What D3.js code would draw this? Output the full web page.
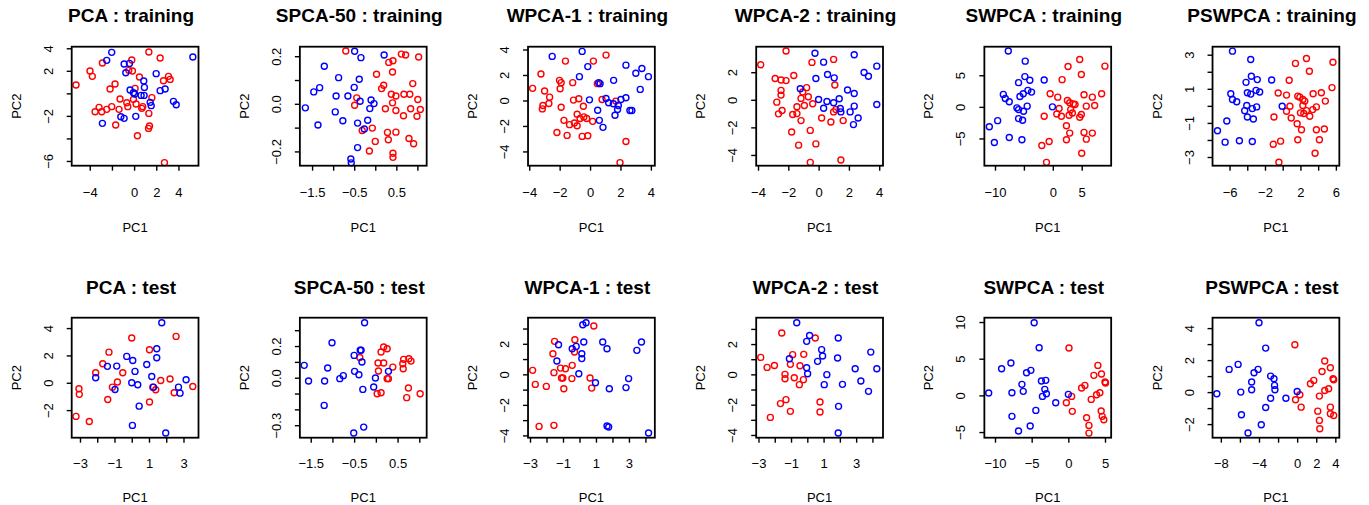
<!DOCTYPE html>
<html><head><meta charset="utf-8">
<script src="https://cdn.jsdelivr.net/npm/d3@7"></script>
<style>body{margin:0;background:#fff}svg{display:block}</style>
</head><body><svg id="c" width="1369" height="505"></svg>
<script>
// ---------- DATA ----------
const methods = ["PCA","SPCA-50","WPCA-1","WPCA-2","SWPCA","PSWPCA"];
const sets = ["training","test"];

const pcaTrainRed = [[-5.24,0.74],[-3.98,1.98],[-3.77,1.51],[-2.86,2.69],[-0.21,2.96],[1.33,3.67],[2.35,3.14],[-0.48,2.04],[-0.15,1.98],[0.48,1.45],[2.65,1.12],[3.10,1.51],[3.25,1.24],[-1.72,0.83],[-2.17,0.38],[0.09,0.44],[-1.27,-0.50],[-0.66,-0.83],[-0.57,-1.18],[-0.06,-0.53],[0.18,-0.95],[0.69,-1.33],[0.78,-1.18],[1.60,-0.38],[1.33,-1.78],[-3.16,-1.24],[-3.52,-1.63],[-2.92,-1.63],[-2.47,-1.42],[-2.02,-1.18],[-1.36,-1.42],[-1.66,-2.81],[1.39,-2.90],[1.30,-3.11],[0.30,-3.76],[2.74,-6.15]];
const pcaTrainBlue = [[-2.02,3.64],[-2.47,2.93],[-0.90,2.60],[-0.42,2.66],[-0.75,1.83],[1.99,1.75],[0.87,1.09],[0.93,0.53],[-0.36,0.30],[-0.06,0.06],[0.63,-0.18],[0.90,-0.18],[0.06,-0.06],[2.80,0.38],[2.35,0.24],[1.45,-0.80],[1.54,-1.09],[3.55,-0.71],[3.80,-1.01],[5.30,3.22],[-2.86,-2.66],[-1.20,-2.07],[-0.90,-2.22],[0.15,-2.04]];

const spcaTrainRed = [[-0.70,0.222],[0.62,0.209],[0.72,0.205],[1.03,0.197],[0.42,0.181],[0.32,0.174],[0.41,0.134],[0.03,0.124],[0.89,0.085],[0.20,0.078],[0.15,0.064],[0.38,0.040],[0.49,0.033],[0.68,0.040],[0.82,0.040],[-0.44,0.025],[1.01,0.018],[-0.49,-0.006],[0.41,0.004],[0.24,-0.021],[0.49,-0.028],[0.84,-0.021],[1.07,-0.024],[0.99,-0.052],[0.67,-0.050],[-0.31,-0.112],[-0.07,-0.102],[0.29,-0.120],[0.49,-0.119],[0.31,-0.151],[0.80,-0.146],[0.91,-0.168],[0.00,-0.158],[-0.14,-0.198],[0.42,-0.208],[0.42,-0.225]];
const spcaTrainBlue = [[-0.49,0.221],[-0.34,0.194],[0.21,0.205],[-1.21,0.158],[-0.87,0.110],[-0.38,0.103],[-1.32,0.068],[-1.46,0.050],[-0.50,0.069],[-0.93,0.033],[-0.65,0.033],[-0.36,0.011],[-0.10,0.016],[-0.03,0.001],[-0.13,-0.020],[-1.66,-0.017],[-0.95,-0.034],[-0.77,-0.071],[-1.36,-0.089],[-0.42,-0.081],[-0.18,-0.069],[-0.26,-0.106],[-0.42,-0.184],[-0.58,-0.232],[-0.57,-0.248]];

const wpca1TrainRed = [[-3.78,0.95],[-3.23,2.08],[-2.99,0.74],[-2.66,0.26],[-2.71,-0.24],[-3.10,-0.40],[-3.14,-0.66],[-1.62,3.09],[-2.01,1.58],[-1.90,1.40],[-1.97,0.92],[-1.14,1.40],[-1.90,-0.53],[-1.09,0.03],[-0.74,0.13],[-0.44,-0.45],[-1.72,-1.56],[-1.35,-1.90],[-1.03,-1.77],[-0.85,-1.08],[-0.85,-1.98],[-0.66,-1.42],[-0.41,-1.29],[-0.22,-1.42],[0.17,-1.64],[-2.18,-2.51],[-1.51,-2.74],[-0.52,-2.82],[-0.15,-2.77],[0.22,3.09],[1.05,3.56],[0.48,1.32],[0.79,0.08],[1.70,-0.05],[2.36,-3.22],[1.97,-4.88]];
const wpca1TrainBlue = [[-2.49,3.46],[-0.52,3.85],[-0.15,2.66],[-0.70,1.87],[0.57,1.40],[0.66,1.32],[1.55,1.58],[2.36,2.77],[3.01,2.14],[3.41,2.51],[3.84,1.87],[3.30,0.87],[-0.04,0.05],[1.05,0.16],[1.22,-0.18],[1.53,-0.26],[1.86,-0.40],[2.03,0.08],[2.36,0.21],[1.81,-0.71],[0.50,-0.77],[2.62,-0.79],[2.75,-0.79],[0.61,-1.56],[1.64,-1.16],[0.85,-2.11]];

const wpca2TrainRed = [[-3.82,2.54],[-2.15,3.54],[-2.87,1.54],[-2.48,1.44],[-2.15,1.39],[-1.64,1.76],[-2.48,0.68],[-2.48,0.34],[-2.76,-0.17],[-2.41,-0.78],[-2.65,-1.02],[-0.79,0.88],[-1.05,0.56],[-0.68,0.22],[-1.16,0.10],[-1.43,-0.51],[-0.94,-0.41],[-0.39,-0.29],[-1.43,-1.00],[-1.71,-1.07],[-1.16,-1.51],[-1.78,-2.34],[-0.55,-2.22],[-1.32,-3.29],[-0.18,-3.20],[-0.55,-4.54],[-0.44,2.71],[0.99,2.93],[1.07,1.07],[0.20,-1.32],[0.81,-1.61],[0.99,-0.88],[1.14,-0.71],[1.62,-1.51],[1.47,-4.37]];
const wpca2TrainBlue = [[-0.24,3.37],[0.33,2.73],[2.35,3.27],[-0.18,1.54],[0.59,1.83],[1.03,1.59],[3.00,1.98],[3.29,1.71],[3.84,2.44],[3.84,-0.34],[-1.21,0.80],[0.00,0.02],[0.55,-0.12],[0.33,-0.61],[0.99,-0.22],[1.36,0.07],[1.43,-0.63],[1.47,-0.88],[1.91,0.71],[2.35,0.46],[2.08,-0.88],[2.35,-0.46],[2.61,-1.32],[2.30,-1.80]];

const swpcaTrainRed = [[4.66,7.50],[2.64,6.38],[9.02,6.44],[4.94,5.11],[1.61,4.31],[-0.46,2.07],[0.86,1.54],[5.40,1.91],[6.84,1.54],[8.45,2.07],[2.53,1.01],[2.93,0.64],[3.56,0.48],[3.85,0.37],[1.09,-0.27],[5.80,0.11],[7.24,0.21],[3.10,-0.43],[3.39,-0.96],[4.94,-1.22],[0.69,-1.12],[1.49,-1.49],[2.82,-1.33],[-1.49,-1.49],[4.66,-1.65],[2.36,-2.98],[2.93,-4.15],[5.40,-4.04],[6.84,-4.15],[5.80,-5.11],[2.36,-5.21],[-0.63,-5.48],[-1.90,-6.12],[5.00,-7.34],[-1.09,-8.78]];
const swpcaTrainBlue = [[-7.70,8.83],[-4.77,7.23],[-4.83,4.79],[-5.92,3.83],[-3.97,4.20],[-1.49,4.26],[-5.11,2.07],[-5.69,1.65],[-4.31,2.61],[-3.68,2.34],[-8.56,1.97],[-8.22,1.33],[-7.53,0.80],[-6.21,-0.16],[-5.92,-0.43],[-4.43,0.11],[-5.06,-0.69],[-5.92,-1.86],[-5.23,-2.13],[-9.54,-2.18],[-10.98,-3.14],[-7.53,-4.84],[-5.34,-5.21],[-10.11,-5.64],[-0.06,0.00]];

const pswpcaTrainRed = [[1.44,2.49],[2.68,2.78],[5.67,2.56],[3.01,2.03],[0.73,1.50],[-0.51,0.75],[0.43,0.63],[1.70,0.57],[2.27,0.37],[1.93,0.51],[3.43,0.71],[4.36,0.77],[5.56,1.07],[4.81,0.28],[2.49,0.28],[2.27,0.02],[3.80,-0.06],[0.81,-0.02],[0.43,-0.32],[2.00,-0.41],[2.38,-0.45],[2.68,-0.28],[3.05,-0.61],[3.39,-0.22],[-0.99,-0.65],[0.96,-0.71],[1.63,-1.05],[2.12,-1.40],[3.80,-1.40],[4.70,-1.36],[4.14,-1.99],[1.70,-1.99],[-0.24,-2.07],[-1.07,-2.25],[3.65,-2.78],[-0.43,-3.31]];
const pswpcaTrainBlue = [[-5.67,3.21],[-3.61,2.72],[-3.54,1.74],[-4.14,1.38],[-2.87,1.54],[-1.25,1.52],[-5.86,0.71],[-5.67,0.37],[-5.19,0.24],[-3.99,0.77],[-3.61,0.69],[-3.01,0.91],[-2.60,0.81],[-4.06,0.02],[-4.29,-0.28],[-3.43,-0.16],[-2.94,-0.06],[-3.99,-0.65],[-3.31,-0.77],[-6.31,-0.89],[-7.36,-1.46],[-4.89,-2.05],[-3.43,-2.09],[-6.50,-2.13],[-0.06,-0.02]];

const pcaTestRed = [[0.00,3.27],[2.57,3.39],[1.03,2.41],[-1.32,2.24],[-1.68,1.39],[-2.09,0.73],[-0.52,0.73],[-0.83,0.05],[-1.12,-0.32],[-3.06,-0.44],[-3.04,-0.85],[-1.39,-1.22],[1.03,-1.41],[1.22,-0.32],[1.39,-0.51],[1.68,0.17],[2.22,0.27],[2.46,-0.73],[3.54,-0.27],[-3.23,-2.46],[-2.46,-2.83]];
const pcaTestBlue = [[1.74,4.39],[1.45,2.49],[1.45,1.83],[0.87,1.34],[-0.29,1.93],[0.06,1.63],[-1.41,1.20],[-0.87,1.22],[0.19,0.83],[1.16,0.46],[-2.09,0.37],[0.00,0.00],[0.35,-0.15],[1.26,-0.32],[-0.97,-0.49],[2.71,-0.32],[2.80,-0.76],[3.15,0.22],[0.43,-1.71],[0.04,-3.12],[1.97,-3.68]];

const spcaTestRed = [[-0.37,0.128],[0.18,0.194],[0.26,0.183],[0.12,0.162],[0.18,0.093],[0.05,0.093],[0.06,0.042],[0.39,0.067],[0.26,-0.006],[0.29,-0.006],[0.03,-0.101],[0.12,-0.095],[0.62,0.088],[0.64,0.116],[0.76,0.120],[0.81,0.105],[0.63,0.057],[0.75,-0.065],[0.71,-0.126],[1.02,-0.101]];
const spcaTestBlue = [[-0.26,0.347],[-1.01,0.221],[-1.65,0.078],[-1.55,-0.021],[-1.11,0.061],[-1.18,-0.021],[-1.19,-0.175],[-0.83,-0.006],[-0.75,0.013],[-0.50,0.141],[-0.49,0.040],[-0.36,0.173],[-0.34,0.173],[-0.32,0.099],[-0.39,0.019],[-0.30,-0.074],[-0.01,-0.002],[-0.05,-0.059],[0.29,0.040],[-0.28,-0.312],[-0.51,-0.349]];

const wpca1TestRed = [[0.87,3.17],[-0.28,2.27],[-1.51,2.16],[-0.30,1.46],[-1.61,1.35],[-0.44,0.59],[-0.85,0.37],[-1.15,0.41],[-2.84,0.26],[-1.55,0.11],[-1.09,-0.24],[-1.01,-0.24],[-0.46,-0.28],[-2.68,-0.66],[-2.01,-0.79],[-0.95,-0.94],[0.64,-0.24],[0.74,-0.90],[-2.45,-3.41],[-1.55,-3.34]];
const wpca1TestBlue = [[0.20,3.25],[0.40,3.38],[0.26,2.12],[1.41,2.12],[1.67,1.68],[3.76,2.12],[3.48,1.57],[-1.27,1.94],[-0.44,1.68],[-0.20,1.83],[0.14,1.35],[0.14,1.03],[-1.37,0.87],[-0.04,0.04],[0.97,-0.55],[1.81,-0.94],[2.98,-0.28],[2.82,-0.87],[1.67,-3.38],[1.77,-3.45],[4.19,-3.84]];

const wpca2TestRed = [[-1.57,2.73],[0.49,2.40],[-2.86,1.12],[-2.47,0.46],[-2.02,0.59],[-0.90,1.30],[-0.22,1.32],[-1.04,0.66],[-0.45,0.57],[-1.37,0.00],[-1.37,-0.29],[-0.80,-0.22],[-0.24,-0.35],[-0.49,-0.68],[-1.31,-1.67],[-1.65,-1.93],[-1.04,-2.44],[0.78,-1.82],[0.78,-2.48],[-2.27,-2.84]];
const wpca2TestBlue = [[-0.65,3.41],[0.14,2.57],[-0.04,2.18],[1.90,2.40],[0.88,1.63],[0.94,1.21],[0.63,0.86],[1.86,1.08],[-1.10,1.03],[-0.04,0.44],[0.02,0.04],[1.20,-0.02],[1.04,-0.68],[2.16,-0.66],[2.94,0.37],[3.29,-0.44],[3.76,-1.12],[3.90,1.47],[4.27,0.37],[1.92,-2.11],[1.90,-3.87]];

const swpcaTestRed = [[0.09,6.45],[4.03,4.09],[3.48,2.73],[4.52,2.91],[5.00,1.82],[5.07,1.68],[2.26,1.36],[1.81,1.00],[3.85,0.09],[4.30,0.36],[3.12,-0.55],[0.45,-0.14],[-0.27,-1.00],[0.54,-2.18],[2.49,-3.05],[4.48,-2.14],[4.62,-2.86],[4.84,-3.32],[2.81,-4.09],[2.81,-5.14]];
const swpcaTestBlue = [[-4.66,9.91],[-3.98,6.50],[-7.83,4.41],[-9.10,3.64],[-5.70,3.09],[-5.11,3.41],[-10.86,0.32],[-7.69,0.36],[-6.33,1.50],[-6.15,0.55],[-3.67,1.95],[-3.08,2.05],[-3.21,0.82],[-2.99,0.23],[-3.53,-0.14],[-4.43,-2.05],[-1.72,-1.00],[-7.69,-2.86],[-5.20,-4.18],[-6.79,-4.86],[0.00,0.14]];

const pswpcaTestRed = [[-0.24,2.96],[2.89,1.94],[2.61,1.29],[3.48,1.52],[3.76,0.83],[3.83,0.77],[1.74,0.73],[1.39,0.52],[2.89,0.10],[3.30,0.21],[2.33,-0.25],[0.28,-0.17],[-0.17,-0.48],[0.42,-0.94],[2.16,-1.19],[3.48,-0.94],[3.48,-1.35],[3.83,-1.46],[2.33,-1.77],[2.37,-2.29]];
const pswpcaTestBlue = [[-4.00,4.33],[-3.30,2.75],[-6.19,1.73],[-7.13,1.42],[-4.52,1.21],[-4.10,1.42],[-8.42,-0.10],[-5.91,0.00],[-4.77,0.63],[-4.77,0.15],[-2.78,1.00],[-2.43,0.83],[-2.37,0.42],[-2.33,0.15],[-2.78,-0.38],[-3.30,-0.96],[-1.18,-0.38],[-5.84,-1.42],[-3.76,-2.04],[-5.15,-2.56],[0.00,0.04]];

// axis limits (data units) per panel, row-major
const xLimits = [[-5.63,5.81],[-1.79,1.22],[-4.08,4.26],[-4.12,4.25],[-11.84,10.1],[-7.92,6.39],
                 [-3.48,3.87],[-1.75,1.17],[-3.12,4.57],[-3.14,4.65],[-11.45,5.84],[-8.87,4.42]];
const yLimits = [[-6.42,4.14],[-0.26,0.24],[-5.12,4.22],[-4.78,3.85],[-9.31,9.52],[-3.51,3.47],
                 [-4.02,4.76],[-0.379,0.379],[-4.15,3.71],[-4.18,3.74],[-5.77,10.59],[-2.85,4.65]];
// tick positions and which of them carry labels
const xTicks = [[-4,-2,0,2,4],[-1.5,-1,-0.5,0,0.5,1],[-4,-2,0,2,4],[-4,-2,0,2,4],[-10,-5,0,5],[-6,-4,-2,0,2,4,6],
                [-3,-2,-1,0,1,2,3],[-1.5,-1,-0.5,0,0.5,1],[-3,-2,-1,0,1,2,3,4],[-3,-2,-1,0,1,2,3,4],[-10,-5,0,5],[-8,-6,-4,-2,0,2,4]];
const xTickLabels = [[-4,0,2,4],[-1.5,-0.5,0.5],[-4,-2,0,2,4],[-4,-2,0,2,4],[-10,0,5],[-6,-2,2,6],
                     [-3,-1,1,3],[-1.5,-0.5,0.5],[-3,-1,1,3],[-3,-1,1,3],[-10,-5,0,5],[-8,-4,0,2,4]];
const yTicks = [[-6,-4,-2,0,2,4],[-0.2,-0.1,0,0.1,0.2],[-4,-2,0,2,4],[-4,-2,0,2],[-5,0,5],[-3,-2,-1,0,1,2,3],
                [-2,0,2,4],[-0.3,-0.2,-0.1,0,0.1,0.2,0.3],[-4,-3,-2,-1,0,1,2,3],[-4,-3,-2,-1,0,1,2,3],[-5,0,5,10],[-2,-1,0,1,2,3,4]];
const yTickLabels = [[-6,-2,2,4],[-0.2,0,0.2],[-4,-2,0,2,4],[-4,-2,0,2],[-5,0,5],[-3,-1,1,3],
                     [-2,0,2,4],[-0.3,0,0.2],[-4,-2,0,2],[-4,-2,0,2],[-5,0,5,10],[-2,0,2,4]];

const redSeries = [pcaTrainRed,spcaTrainRed,wpca1TrainRed,wpca2TrainRed,swpcaTrainRed,pswpcaTrainRed,
                   pcaTestRed,spcaTestRed,wpca1TestRed,wpca2TestRed,swpcaTestRed,pswpcaTestRed];
const blueSeries = [pcaTrainBlue,spcaTrainBlue,wpca1TrainBlue,wpca2TrainBlue,swpcaTrainBlue,pswpcaTrainBlue,
                    pcaTestBlue,spcaTestBlue,wpca1TestBlue,wpca2TestBlue,swpcaTestBlue,pswpcaTestBlue];
const decimalPanels = [1,7];

// ---------- LAYOUT ----------
const svg = d3.select("#c");
const FONT = "'Liberation Sans', Arial, Helvetica, sans-serif";
const colW = 1369/6;
const boxLeft = 71.7, boxW = 126.8;
const rowTop = [46.7, 317.7], rowH = [119, 120];
const titleY = [22, 294], xLabY = [31, 30.5], pc1Y = [66.5, 64.5];
const fmtMinus = s => s.replace("-", "\u2212");

for (let p = 0; p < 12; p++) {
  const r = Math.floor(p / 6), c = p % 6;
  const x0 = c * colW + boxLeft, y0 = rowTop[r], h = rowH[r];
  const x = d3.scaleLinear().domain(xLimits[p]).range([x0, x0 + boxW]);
  const y = d3.scaleLinear().domain(yLimits[p]).range([y0 + h, y0]);
  const dec = decimalPanels.includes(p);
  const f = v => fmtMinus(dec ? d3.format(".1f")(v) : d3.format("d")(v));
  const g = svg.append("g");

  // title
  g.append("text").attr("x", x0 + boxW/2 - 4).attr("y", titleY[r])
    .attr("text-anchor","middle").attr("font-family",FONT).attr("font-weight","bold")
    .attr("font-size","19px").attr("fill","#000")
    .text(methods[c] + " : " + sets[r]);

  // x axis
  const xl = xTickLabels[p];
  const gx = g.append("g").attr("transform", `translate(0,${y0 + h})`)
    .call(d3.axisBottom(x).tickValues(xTicks[p]).tickSize(5).tickSizeOuter(0)
      .tickFormat(v => xl.some(l => Math.abs(l - v) < 1e-9) ? f(v) : ""));
  gx.select(".domain").remove();
  gx.selectAll(".tick line").attr("stroke","#000").attr("stroke-width",1.4);
  gx.selectAll(".tick text").attr("y", xLabY[r]).attr("dy", 0)
    .attr("font-family",FONT).attr("font-size","13px").attr("fill","#000");

  // y axis
  const yl = yTickLabels[p];
  const gy = g.append("g").attr("transform", `translate(${x0},0)`)
    .call(d3.axisLeft(y).tickValues(yTicks[p]).tickSize(5).tickSizeOuter(0)
      .tickFormat(v => yl.some(l => Math.abs(l - v) < 1e-9) ? f(v) : ""));
  gy.select(".domain").remove();
  gy.selectAll(".tick line").attr("stroke","#000").attr("stroke-width",1.4);
  gy.selectAll(".tick text").attr("x", 0).attr("dy", 0).attr("text-anchor","middle")
    .attr("transform","translate(-19,0) rotate(-90)")
    .attr("font-family",FONT).attr("font-size","13px").attr("fill","#000");

  // axis titles
  g.append("text").attr("x", x0 + boxW/2).attr("y", y0 + h + pc1Y[r])
    .attr("text-anchor","middle").attr("font-family",FONT).attr("font-size","13px").text("PC1");
  g.append("text").attr("transform", `translate(${x0 - 51},${y0 + h/2}) rotate(-90)`)
    .attr("text-anchor","middle").attr("font-family",FONT).attr("font-size","13px").text("PC2");

  // points
  g.selectAll("circle.r").data(redSeries[p]).enter().append("circle")
    .attr("cx", d => x(d[0])).attr("cy", d => y(d[1])).attr("r", 3.0)
    .attr("fill","none").attr("stroke","#FF0000").attr("stroke-width",1.4);
  g.selectAll("circle.b").data(blueSeries[p]).enter().append("circle")
    .attr("cx", d => x(d[0])).attr("cy", d => y(d[1])).attr("r", 3.0)
    .attr("fill","none").attr("stroke","#0000FF").attr("stroke-width",1.4);

  // box
  g.append("rect").attr("x", x0).attr("y", y0).attr("width", boxW).attr("height", h)
    .attr("fill","none").attr("stroke","#000").attr("stroke-width",1.8);
}
</script></body></html>
